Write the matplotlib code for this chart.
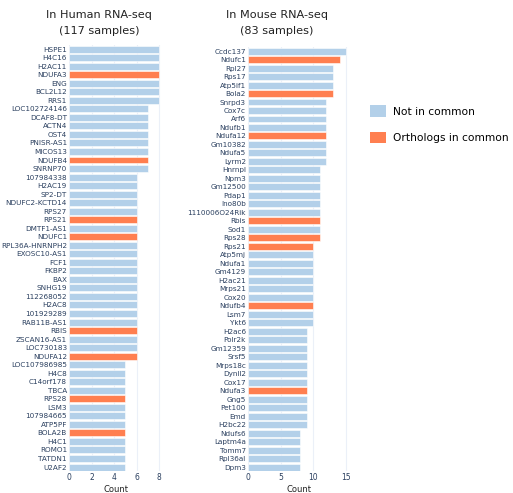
import matplotlib.pyplot as plt
from matplotlib.patches import Patch

# --- dados: genes e contagens ---
human_genes = ['HSPE1', 'H4C16', 'H2AC11', 'NDUFA3', 'ENG', 'BCL2L12', 'RRS1',
               'LOC102724146', 'DCAF8-DT', 'ACTN4', 'OST4', 'PNISR-AS1', 'MICOS13', 'NDUFB4', 'SNRNP70',
               '107984338', 'H2AC19', 'SP2-DT', 'NDUFC2-KCTD14', 'RPS27', 'RPS21', 'DMTF1-AS1', 'NDUFC1',
               'RPL36A-HNRNPH2', 'EXOSC10-AS1', 'FCF1', 'FKBP2', 'BAX', 'SNHG19', '112268052', 'H2AC8',
               '101929289', 'RAB11B-AS1', 'RBIS', 'ZSCAN16-AS1', 'LOC730183', 'NDUFA12',
               'LOC107986985', 'H4C8', 'C14orf178', 'TBCA', 'RPS28', 'LSM3', '107984665', 'ATP5PF',
               'BOLA2B', 'H4C1', 'ROMO1', 'TATDN1', 'U2AF2']
human_counts = [8] * 7 + [7] * 8 + [6] * 22 + [5] * 13
human_common = ['NDUFA3', 'NDUFB4', 'RPS21', 'NDUFC1', 'RBIS', 'NDUFA12', 'RPS28', 'BOLA2B']

mouse_genes = ['Ccdc137', 'Ndufc1', 'Rpl27', 'Rps17', 'Atp5if1', 'Bola2',
               'Snrpd3', 'Cox7c', 'Arf6', 'Ndufb1', 'Ndufa12', 'Gm10382', 'Ndufa5', 'Lyrm2',
               'Hnrnpl', 'Npm3', 'Gm12500', 'Pdap1', 'Ino80b', '1110006O24Rik', 'Rbis', 'Sod1', 'Rps28',
               'Rps21', 'Atp5mj', 'Ndufa1', 'Gm4129', 'H2ac21', 'Mrps21', 'Cox20', 'Ndufb4', 'Lsm7', 'Ykt6',
               'H2ac6', 'Polr2k', 'Gm12359', 'Srsf5', 'Mrps18c', 'Dynll2', 'Cox17', 'Ndufa3', 'Gng5',
               'Pet100', 'Emd', 'H2bc22',
               'Ndufs6', 'Laptm4a', 'Tomm7', 'Rpl36al', 'Dpm3']
mouse_counts = [15, 14, 13, 13, 13, 13] + [12] * 8 + [11] * 9 + [10] * 10 + [9] * 12 + [8] * 5
mouse_common = ['Ndufc1', 'Bola2', 'Ndufa12', 'Rbis', 'Rps28', 'Rps21', 'Ndufb4', 'Ndufa3']

AZUL = '#b3d0e9'
LARANJA = '#ff7f50'
TXT = '#2a3f5f'

fig = plt.figure(figsize=(5.13, 4.93), dpi=100)


def painel(ax, genes, counts, common, ticks, xmax):
    cores = [LARANJA if g in common else AZUL for g in genes]
    y = list(range(len(genes)))
    ax.barh(y, counts, height=0.82, color=cores, edgecolor='white', linewidth=0.4, zorder=2)
    ax.set_ylim(len(genes) - 0.5, -0.5)
    ax.set_xlim(0, xmax)
    ax.set_yticks(y)
    ax.set_yticklabels(genes, fontsize=5.2, color=TXT)
    ax.set_xticks(ticks)
    ax.set_xticklabels([str(t) for t in ticks], fontsize=5.5, color=TXT)
    ax.tick_params(length=0, pad=1.5)
    ax.grid(axis='x', color='#ebf0f8', linewidth=0.8, zorder=0)
    for s in ax.spines.values():
        s.set_visible(False)
    ax.set_xlabel('Count', fontsize=6, color='#222222', labelpad=2)


ax1 = fig.add_axes([69 / 513, 0.044, 93.4 / 513, 0.865])
painel(ax1, human_genes, human_counts, human_common, [0, 2, 4, 6, 8], 8.3)

ax2 = fig.add_axes([248 / 513, 0.044, 102 / 513, 0.861])
painel(ax2, mouse_genes, mouse_counts, mouse_common, [0, 5, 10, 15], 15.6)

# titulos dos paineis
fig.text(99 / 513, 1 - 23 / 493, 'In Human RNA-seq\n(117 samples)', ha='center', va='center',
         fontsize=8.1, color='#222222', linespacing=1.75)
fig.text(277 / 513, 1 - 23.5 / 493, 'In Mouse RNA-seq\n(83 samples)', ha='center', va='center',
         fontsize=8.1, color='#222222', linespacing=1.75)

handles = [Patch(facecolor=AZUL, label='Not in common'),
           Patch(facecolor=LARANJA, label='Orthologs in common')]
fig.legend(handles=handles, loc='upper left', bbox_to_anchor=(0.702, 0.806),
           frameon=False, fontsize=7.7, handlelength=1.55, handleheight=1.25,
           labelspacing=1.4, handletextpad=0.6)

fig.savefig('out.png', dpi=100)
